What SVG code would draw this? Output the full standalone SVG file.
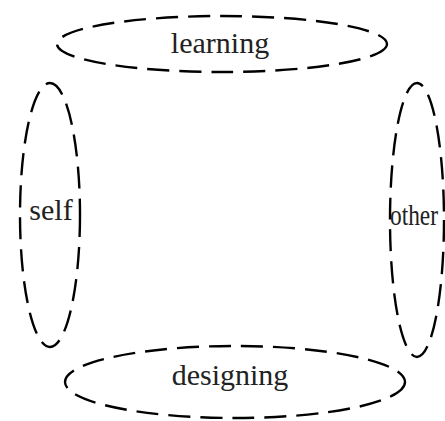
<svg xmlns="http://www.w3.org/2000/svg" width="445" height="421" viewBox="0 0 445 421">
  <style>
    .ring { fill: none; stroke: #000; stroke-width: 2.4; stroke-dasharray: 22 10; }
    .label { font-family: "Liberation Serif", "Times New Roman", serif; font-size: 30px; fill: #222; text-anchor: middle; }
  </style>
  <rect width="445" height="421" fill="#fff"/>
  <g id="learning">
    <ellipse class="ring" cx="222" cy="44" rx="165" ry="28"/>
    <text class="label" x="220" y="53">learning</text>
  </g>
  <g id="self">
    <ellipse class="ring" cx="50" cy="215" rx="30" ry="132"/>
    <text class="label" x="51" y="220">self</text>
  </g>
  <g id="other">
    <ellipse class="ring" cx="417" cy="220" rx="27" ry="137"/>
    <text class="label" x="414" y="225" textLength="48" lengthAdjust="spacingAndGlyphs">other</text>
  </g>
  <g id="designing">
    <ellipse class="ring" cx="235" cy="382" rx="170" ry="36"/>
    <text class="label" x="230" y="385">designing</text>
  </g>
  <g id="connectors"/>
</svg>
